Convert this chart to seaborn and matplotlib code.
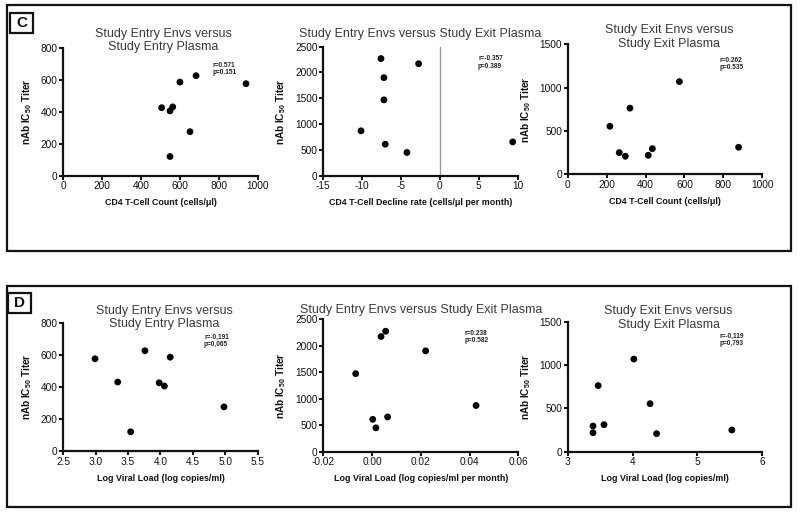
import pandas as pd
import seaborn as sns
import matplotlib.pyplot as plt
from matplotlib.patches import Rectangle

# valeurs
entry_titer = [575, 430, 120, 625, 425, 405, 585, 275]
cd4_entry = [940, 563, 549, 683, 506, 549, 600, 652]
vl_entry = [2.99, 3.34, 3.54, 3.76, 3.98, 4.06, 4.15, 4.98]

exit_titer_entry_envs = [2270, 2170, 1900, 1470, 870, 610, 450, 655]
cd4_decline = [-7.58, -2.74, -7.2, -7.2, -10.15, -7.03, -4.24, 9.36]
vl_change = [0.0056, 0.0037, 0.022, -0.0067, 0.0427, 0.0003, 0.0016, 0.0064]

exit_titer = [1069, 763, 554, 250, 208, 219, 296, 312]
cd4_exit = [574, 320, 217, 265, 296, 414, 435, 878]
vl_exit = [4.02, 3.47, 4.27, 5.53, 4.37, 3.39, 3.39, 3.56]

titles = ["Study Entry Envs versus\nStudy Entry Plasma",
          "Study Entry Envs versus Study Exit Plasma",
          "Study Exit Envs versus\nStudy Exit Plasma"]
stats_c = ["r=0.571\np=0.151", "r=-0.357\np=0.389", "r=0.262\np=0.535"]
stats_d = ["r=-0,191\np=0,065", "r=0.238\np=0.582", "r=-0,119\np=0,793"]

sns.set_style("ticks")
plt.rcParams['font.family'] = ['Liberation Sans', 'DejaVu Sans']
plt.rcParams['mathtext.fontset'] = 'custom'
plt.rcParams['mathtext.rm'] = 'Liberation Sans'
plt.rcParams['mathtext.bf'] = 'Liberation Sans:bold'

fig = plt.figure(figsize=(8, 5.24), dpi=100)

ylabel = r"nAb IC$_{\mathbf{50}}$ Titer"

panels = [
    # x, y, xlabel, xlim, xticks, ylim, yticks, rect, title pos, stats pos, stats, xfmt
    (cd4_entry, entry_titer, "CD4 T-Cell Count (cells/\u03bcl)", (0, 1000), range(0, 1001, 200),
     (0, 800), range(0, 801, 200), [0.0791, 0.6647, 0.243, 0.2443], (0.513, 1.056), (0.77, 0.834), stats_c[0], titles[0], "{:.0f}"),
    (cd4_decline, exit_titer_entry_envs, "CD4 T-Cell Decline rate (cells/\u03bcl per month)", (-15, 10), range(-15, 11, 5),
     (0, 2500), range(0, 2501, 500), [0.4041, 0.6647, 0.243, 0.2462], (0.5, 1.098), (0.796, 0.877), stats_c[1], titles[1], "{:.0f}"),
    (cd4_exit, exit_titer, "CD4 T-Cell Count (cells/\u03bcl)", (0, 1000), range(0, 1001, 200),
     (0, 1500), range(0, 1501, 500), [0.7096, 0.6674, 0.2433, 0.2481], (0.523, 1.056), (0.778, 0.848), stats_c[2], titles[2], "{:.0f}"),
    (vl_entry, entry_titer, "Log Viral Load (log copies/ml)", (2.5, 5.5), [2.5, 3.0, 3.5, 4.0, 4.5, 5.0, 5.5],
     (0, 800), range(0, 801, 200), [0.0791, 0.1393, 0.243, 0.2449], (0.518, 1.04), (0.724, 0.857), stats_d[0], titles[0], "{:.1f}"),
    (vl_change, exit_titer_entry_envs, "Log Viral Load (log copies/ml per month)", (-0.02, 0.06), [-0.02, 0.0, 0.02, 0.04, 0.06],
     (0, 2500), range(0, 2501, 500), [0.4041, 0.138, 0.2437, 0.2532], (0.5, 1.068), (0.723, 0.864), stats_d[1], titles[1], "{:.2f}"),
    (vl_exit, exit_titer, "Log Viral Load (log copies/ml)", (3, 6), [3, 4, 5, 6],
     (0, 1500), range(0, 1501, 500), [0.7096, 0.138, 0.2433, 0.248], (0.518, 1.028), (0.778, 0.859), stats_d[2], titles[2], "{:.0f}"),
]

for i, (xs, ys, xlab, xlim, xt, ylim, yt, rect, tpos, spos, stat, title, xfmt) in enumerate(panels):
    ax = fig.add_axes(rect)
    df = pd.DataFrame({"x": xs, "y": ys})
    sns.scatterplot(data=df, x="x", y="y", ax=ax, color="black", s=24, edgecolor="none", zorder=3)
    if i == 1:
        ax.axvline(0, color="#999999", lw=1.0, zorder=1)
    ax.set_xlim(*xlim)
    ax.set_ylim(*ylim)
    ax.set_xticks(list(xt))
    ax.set_xticklabels([xfmt.format(v) for v in xt])
    ax.set_yticks(list(yt))
    sns.despine(ax=ax)
    for sp in ["left", "bottom"]:
        ax.spines[sp].set_linewidth(1.6)
        ax.spines[sp].set_color("#111111")
    ax.tick_params(axis="both", width=1.4, length=3, labelsize=7.3, colors="#111111", pad=1)
    ax.set_xlabel(xlab, fontsize=6.4, fontweight="bold", labelpad=5, color="#111111")
    ax.set_ylabel(ylabel, fontsize=7.2, fontweight="bold", labelpad=5, color="#111111")
    ax.text(tpos[0], tpos[1], title, transform=ax.transAxes, ha="center", va="center",
            fontsize=9, color="#3a3a3a", linespacing=1.15)
    ax.text(spos[0], spos[1], stat, transform=ax.transAxes, ha="left", va="center",
            fontsize=4.7, fontweight="bold", color="#222222", linespacing=1.1)

# cadres des panneaux C et D
H = 524.0
for top, bottom in [(5, 251), (286, 507)]:
    fig.add_artist(Rectangle((7 / 800, 1 - bottom / H), 784 / 800, (bottom - top) / H,
                             transform=fig.transFigure, fill=False, lw=1.6, ec="#111111"))
for letter, (x0, top, bottom) in [("C", (10, 13, 33)), ("D", (8, 293, 313))]:
    fig.add_artist(Rectangle((x0 / 800, 1 - bottom / H), 23 / 800, (bottom - top) / H,
                             transform=fig.transFigure, fill=False, lw=1.6, ec="#111111"))
    fig.text((x0 + 11.5) / 800, 1 - (top + bottom) / 2 / H, letter, ha="center", va="center",
             fontsize=11, fontweight="bold", color="#111111")

plt.savefig("out.png", dpi=100)
